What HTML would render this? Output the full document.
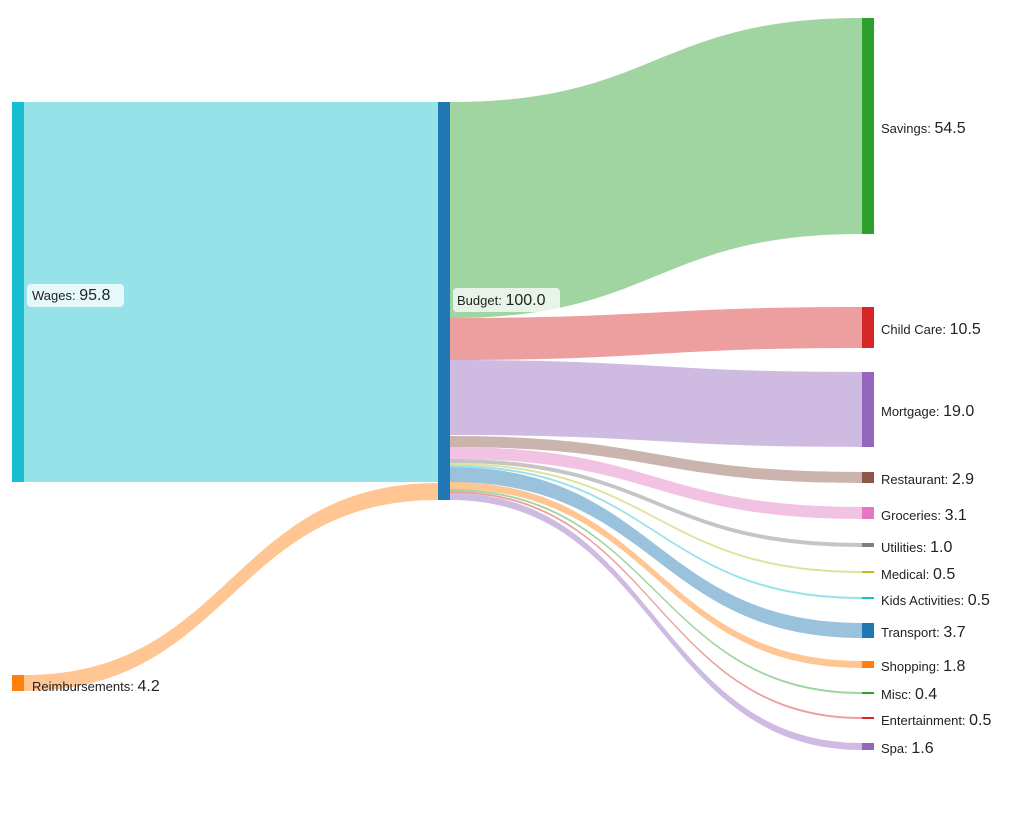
<!DOCTYPE html>
<html><head><meta charset="utf-8"><style>
html,body{margin:0;padding:0;background:#fff;}
svg{display:block;font-family:"Liberation Sans",Arial,sans-serif;}
.s{font-size:13px;fill:#222}
.v{font-size:16px;fill:#222}
</style></head><body>
<svg width="1024" height="819" viewBox="0 0 1024 819" xmlns="http://www.w3.org/2000/svg">
<g fill-opacity="0.45">
<path d="M24,102 C231,102 231,102 438,102 L438,482 C231,482 231,482 24,482 Z" fill="#17becf"/>
<path d="M24,675 C231,675 231,483 438,483 L438,500 C231,500 231,691 24,691 Z" fill="#ff7f0e"/>
<path d="M450,102 C656,102 656,18 862,18 L862,234 C656,234 656,318 450,318 Z" fill="#2ca02c"/>
<path d="M450,318 C656,318 656,307 862,307 L862,348 C656,348 656,360 450,360 Z" fill="#d62728"/>
<path d="M450,360 C656,360 656,372 862,372 L862,447 C656,447 656,435 450,435 Z" fill="#9467bd"/>
<path d="M450,436 C656,436 656,472 862,472 L862,483 C656,483 656,447 450,447 Z" fill="#8c564b"/>
<path d="M450,447 C656,447 656,507 862,507 L862,519 C656,519 656,459 450,459 Z" fill="#e377c2"/>
<path d="M450,459 C656,459 656,543 862,543 L862,547 C656,547 656,463 450,463 Z" fill="#7f7f7f"/>
<path d="M450,463 C656,463 656,571 862,571 L862,573 C656,573 656,465 450,465 Z" fill="#bcbd22"/>
<path d="M450,465 C656,465 656,597 862,597 L862,599 C656,599 656,467 450,467 Z" fill="#17becf"/>
<path d="M450,467 C656,467 656,623 862,623 L862,638 C656,638 656,482 450,482 Z" fill="#1f77b4"/>
<path d="M450,482 C656,482 656,661 862,661 L862,668 C656,668 656,489 450,489 Z" fill="#ff7f0e"/>
<path d="M450,489 C656,489 656,692 862,692 L862,694 C656,694 656,491 450,491 Z" fill="#2ca02c"/>
<path d="M450,491 C656,491 656,717 862,717 L862,719 C656,719 656,493 450,493 Z" fill="#d62728"/>
<path d="M450,493 C656,493 656,743 862,743 L862,750 C656,750 656,500 450,500 Z" fill="#9467bd"/>
</g>
<rect x="12" y="102" width="12" height="380" fill="#17becf"/>
<rect x="12" y="675" width="12" height="16" fill="#ff7f0e"/>
<rect x="438" y="102" width="12" height="398" fill="#1f77b4"/>
<rect x="862" y="18" width="12" height="216" fill="#2ca02c"/>
<rect x="862" y="307" width="12" height="41" fill="#d62728"/>
<rect x="862" y="372" width="12" height="75" fill="#9467bd"/>
<rect x="862" y="472" width="12" height="11" fill="#8c564b"/>
<rect x="862" y="507" width="12" height="12" fill="#e377c2"/>
<rect x="862" y="543" width="12" height="4" fill="#7f7f7f"/>
<rect x="862" y="571" width="12" height="2" fill="#bcbd22"/>
<rect x="862" y="597" width="12" height="2" fill="#17becf"/>
<rect x="862" y="623" width="12" height="15" fill="#1f77b4"/>
<rect x="862" y="661" width="12" height="7" fill="#ff7f0e"/>
<rect x="862" y="692" width="12" height="2" fill="#2ca02c"/>
<rect x="862" y="717" width="12" height="2" fill="#d62728"/>
<rect x="862" y="743" width="12" height="7" fill="#9467bd"/>
<rect x="27" y="284" width="97" height="23" rx="4" fill="#fff" fill-opacity="0.75"/>
<rect x="453" y="288" width="107" height="24" rx="4" fill="#fff" fill-opacity="0.75"/>
<text x="32" y="300"><tspan class="s">Wages: </tspan><tspan class="v">95.8</tspan></text>
<text x="32" y="691"><tspan class="s">Reimbursements: </tspan><tspan class="v">4.2</tspan></text>
<text x="457" y="305"><tspan class="s">Budget: </tspan><tspan class="v">100.0</tspan></text>
<g>
<text x="881" y="133"><tspan class="s">Savings: </tspan><tspan class="v">54.5</tspan></text>
<text x="881" y="334"><tspan class="s">Child Care: </tspan><tspan class="v">10.5</tspan></text>
<text x="881" y="416"><tspan class="s">Mortgage: </tspan><tspan class="v">19.0</tspan></text>
<text x="881" y="484"><tspan class="s">Restaurant: </tspan><tspan class="v">2.9</tspan></text>
<text x="881" y="520"><tspan class="s">Groceries: </tspan><tspan class="v">3.1</tspan></text>
<text x="881" y="552"><tspan class="s">Utilities: </tspan><tspan class="v">1.0</tspan></text>
<text x="881" y="579"><tspan class="s">Medical: </tspan><tspan class="v">0.5</tspan></text>
<text x="881" y="605"><tspan class="s">Kids Activities: </tspan><tspan class="v">0.5</tspan></text>
<text x="881" y="637"><tspan class="s">Transport: </tspan><tspan class="v">3.7</tspan></text>
<text x="881" y="671"><tspan class="s">Shopping: </tspan><tspan class="v">1.8</tspan></text>
<text x="881" y="699"><tspan class="s">Misc: </tspan><tspan class="v">0.4</tspan></text>
<text x="881" y="725"><tspan class="s">Entertainment: </tspan><tspan class="v">0.5</tspan></text>
<text x="881" y="753"><tspan class="s">Spa: </tspan><tspan class="v">1.6</tspan></text>
</g>
</svg>
</body></html>
